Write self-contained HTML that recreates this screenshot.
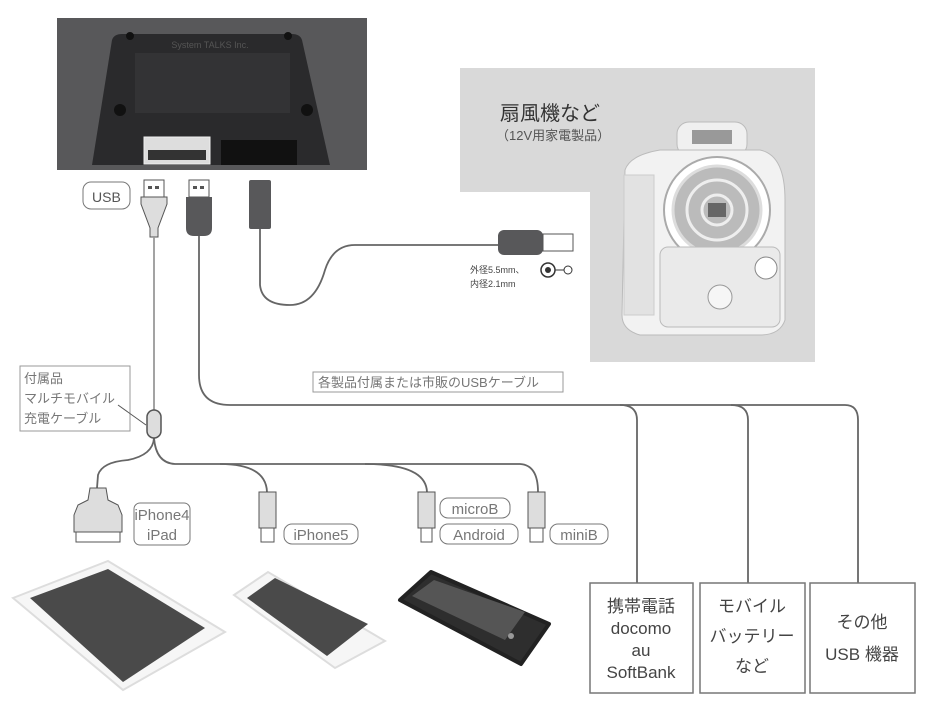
<!DOCTYPE html>
<html><head><meta charset="utf-8"><style>
html,body{margin:0;padding:0;background:#fff}
svg{display:block}
text{font-family:"Liberation Sans","Noto Sans CJK JP",sans-serif}
</style></head><body>
<svg width="926" height="721" viewBox="0 0 926 721" xmlns="http://www.w3.org/2000/svg">
<!-- top photo -->
<rect x="57" y="18" width="310" height="152" fill="#58585a"/>
<path d="M92 165 L112 40 Q114 34 122 34 L292 34 Q300 34 302 40 L330 165 Z" fill="#2a2a2c"/>
<rect x="135" y="53" width="155" height="60" fill="#333335"/>
<text x="210" y="48" font-size="9" fill="#555" text-anchor="middle">System TALKS Inc.</text>
<circle cx="120" cy="110" r="6" fill="#111"/><circle cx="307" cy="110" r="6" fill="#111"/>
<circle cx="130" cy="36" r="4" fill="#111"/><circle cx="288" cy="36" r="4" fill="#111"/>
<rect x="144" y="137" width="66" height="27" fill="#ddd" stroke="#eee"/>
<rect x="148" y="150" width="58" height="10" fill="#333"/>
<rect x="221" y="140" width="76" height="25" fill="#111"/>
<!-- fan area -->
<path d="M460 68 L815 68 L815 362 L590 362 L590 192 L460 192 Z" fill="#d9d9d9"/>
<text x="500" y="120" font-size="20" fill="#333">扇風機など</text>
<text x="496" y="140" font-size="13" fill="#555">（12V用家電製品）</text>
<rect x="677" y="122" width="70" height="34" rx="12" fill="#f0f0f0" stroke="#bbb"/>
<rect x="692" y="130" width="40" height="14" fill="#999"/>
<path d="M625 170 Q630 155 660 150 L760 150 Q785 155 785 200 L785 320 Q780 335 760 335 L640 335 Q622 330 622 315 Z" fill="#f2f2f2" stroke="#bbb"/>
<rect x="624" y="175" width="30" height="140" fill="#e2e2e2" stroke="#ccc"/>
<circle cx="717" cy="210" r="53" fill="#fff" stroke="#aaa" stroke-width="2"/>
<circle cx="717" cy="210" r="44" fill="#bbb" stroke="#ddd" stroke-width="3"/>
<circle cx="717" cy="210" r="30" fill="none" stroke="#eee" stroke-width="3"/>
<circle cx="717" cy="210" r="15" fill="none" stroke="#eee" stroke-width="3"/>
<rect x="708" y="203" width="18" height="14" fill="#666"/>
<rect x="660" y="247" width="120" height="80" rx="8" fill="#eaeaea" stroke="#bbb"/>
<circle cx="766" cy="268" r="11" fill="#fff" stroke="#888"/>
<circle cx="720" cy="297" r="12" fill="#f6f6f6" stroke="#999"/>
<!-- plugs -->
<text x="92" y="202" font-size="14" fill="#555" font-weight="300">USB</text>
<rect x="83" y="182" width="47" height="27" rx="8" fill="none" stroke="#777"/>
<rect x="144" y="180" width="20" height="17" fill="#fff" stroke="#555"/>
<rect x="148" y="186" width="4" height="3" fill="#555"/><rect x="155" y="186" width="4" height="3" fill="#555"/>
<path d="M141 197 L167 197 L167 204 L158 228 L158 237 L150 237 L150 228 L141 204 Z" fill="#ddd" stroke="#555"/>
<rect x="189" y="180" width="20" height="17" fill="#fff" stroke="#555"/>
<rect x="193" y="186" width="4" height="3" fill="#555"/><rect x="200" y="186" width="4" height="3" fill="#555"/>
<path d="M186 197 L212 197 L212 228 Q212 236 204 236 L194 236 Q186 236 186 228 Z" fill="#58585a"/>
<rect x="249" y="180" width="22" height="49" rx="2" fill="#58585a"/>
<!-- cables -->
<g fill="none" stroke-width="1.8" stroke="#666">
<path d="M154 237 L154 410" stroke="#999"/>
<path d="M199 236 L199 375 Q199 405 230 405 L845 405 Q858 405 858 420 L858 583"/>
<path d="M620 405 Q637 405 637 420 L637 583"/>
<path d="M731 405 Q748 405 748 420 L748 583"/>
<path d="M260 229 L260 285 Q262 305 290 305 Q315 305 325 270 Q333 245 355 245 L500 245"/>
<path d="M154 438 Q153 455 128 460 Q102 462 98 475 L97 488"/>
<path d="M154 438 Q156 463 175 464 L520 464 Q538 465 538 492"/>
<path d="M220 464 Q266 464 267 492"/>
<path d="M365 464 Q426 464 427 492"/>
</g>
<!-- DC plug -->
<rect x="498" y="230" width="45" height="25" rx="6" fill="#58585a"/>
<rect x="543" y="234" width="30" height="17" fill="#fff" stroke="#555"/>
<text x="470" y="273" font-size="9" fill="#444">外径5.5mm、</text>
<text x="470" y="287" font-size="9" fill="#444">内径2.1mm</text>
<circle cx="548" cy="270" r="7" fill="none" stroke="#333" stroke-width="1.5"/><circle cx="548" cy="270" r="3" fill="#333"/>
<line x1="555" y1="270" x2="564" y2="270" stroke="#333"/>
<circle cx="568" cy="270" r="4" fill="none" stroke="#333"/>
<!-- cable label -->
<rect x="313" y="372" width="250" height="20" fill="#fff" stroke="#999"/>
<text x="318" y="387" font-size="13" fill="#777">各製品付属または市販のUSBケーブル</text>
<!-- accessory label -->
<rect x="20" y="366" width="110" height="65" fill="#fff" stroke="#999"/>
<text x="24" y="383" font-size="13" fill="#777">付属品</text>
<text x="24" y="403" font-size="13" fill="#777">マルチモバイル</text>
<text x="24" y="423" font-size="13" fill="#777">充電ケーブル</text>
<line x1="118" y1="405" x2="146" y2="425" stroke="#555"/>
<rect x="147" y="410" width="14" height="28" rx="7" fill="#ddd" stroke="#555" stroke-width="1.5"/>
<!-- connectors -->
<path d="M74 515 L78 505 L88 500 L90 488 L106 488 L108 500 L118 505 L122 515 L122 532 L74 532 Z" fill="#ddd" stroke="#555"/>
<rect x="76" y="532" width="44" height="10" fill="#fff" stroke="#555"/>
<rect x="134" y="503" width="56" height="42" rx="6" fill="#fff" stroke="#777"/>
<text x="162" y="520" font-size="15" fill="#777" text-anchor="middle">iPhone4</text>
<text x="162" y="540" font-size="15" fill="#777" text-anchor="middle">iPad</text>
<rect x="259" y="492" width="17" height="36" fill="#ddd" stroke="#555"/>
<rect x="261" y="528" width="13" height="14" fill="#fff" stroke="#555"/>
<rect x="284" y="524" width="74" height="20" rx="8" fill="#fff" stroke="#777"/>
<text x="321" y="540" font-size="15" fill="#777" text-anchor="middle">iPhone5</text>
<rect x="418" y="492" width="17" height="36" fill="#ddd" stroke="#555"/>
<rect x="421" y="528" width="11" height="14" fill="#fff" stroke="#555"/>
<rect x="440" y="498" width="70" height="20" rx="8" fill="#fff" stroke="#777"/>
<text x="475" y="514" font-size="15" fill="#777" text-anchor="middle">microB</text>
<rect x="440" y="524" width="78" height="20" rx="8" fill="#fff" stroke="#777"/>
<text x="479" y="540" font-size="15" fill="#777" text-anchor="middle">Android</text>
<rect x="528" y="492" width="17" height="36" fill="#ddd" stroke="#555"/>
<rect x="530" y="528" width="13" height="14" fill="#fff" stroke="#555"/>
<rect x="550" y="524" width="58" height="20" rx="8" fill="#fff" stroke="#777"/>
<text x="579" y="540" font-size="15" fill="#777" text-anchor="middle">miniB</text>
<!-- devices -->
<path d="M13 598 L108 561 L225 632 L123 690 Z" fill="#f6f6f6" stroke="#ddd" stroke-width="2"/>
<path d="M30 598 L108 569 L205 628 L123 682 Z" fill="#4a4a4a"/>
<path d="M234 595 L268 572 L385 641 L335 668 Z" fill="#f6f6f6" stroke="#ddd" stroke-width="2"/>
<path d="M247 598 L275 578 L368 624 L327 656 Z" fill="#4a4a4a"/>
<path d="M400 600 L431 572 L549 624 L521 664 Z" fill="#2e2e2e" stroke="#222" stroke-width="4" stroke-linejoin="round"/>
<path d="M412 596 L434 580 L525 612 L505 640 Z" fill="#555"/>
<circle cx="511" cy="636" r="3" fill="#999"/>
<!-- boxes -->
<g stroke="#777" fill="#fff" stroke-width="1.5">
<rect x="590" y="583" width="103" height="110"/>
<rect x="700" y="583" width="105" height="110"/>
<rect x="810" y="583" width="105" height="110"/>
</g>
<g font-size="17" fill="#444" text-anchor="middle">
<text x="641" y="612">携帯電話</text>
<text x="641" y="634">docomo</text>
<text x="641" y="656">au</text>
<text x="641" y="678">SoftBank</text>
<text x="752" y="612">モバイル</text>
<text x="752" y="642">バッテリー</text>
<text x="752" y="672">など</text>
<text x="862" y="628">その他</text>
<text x="862" y="660">USB 機器</text>
</g>
</svg>
</body></html>
